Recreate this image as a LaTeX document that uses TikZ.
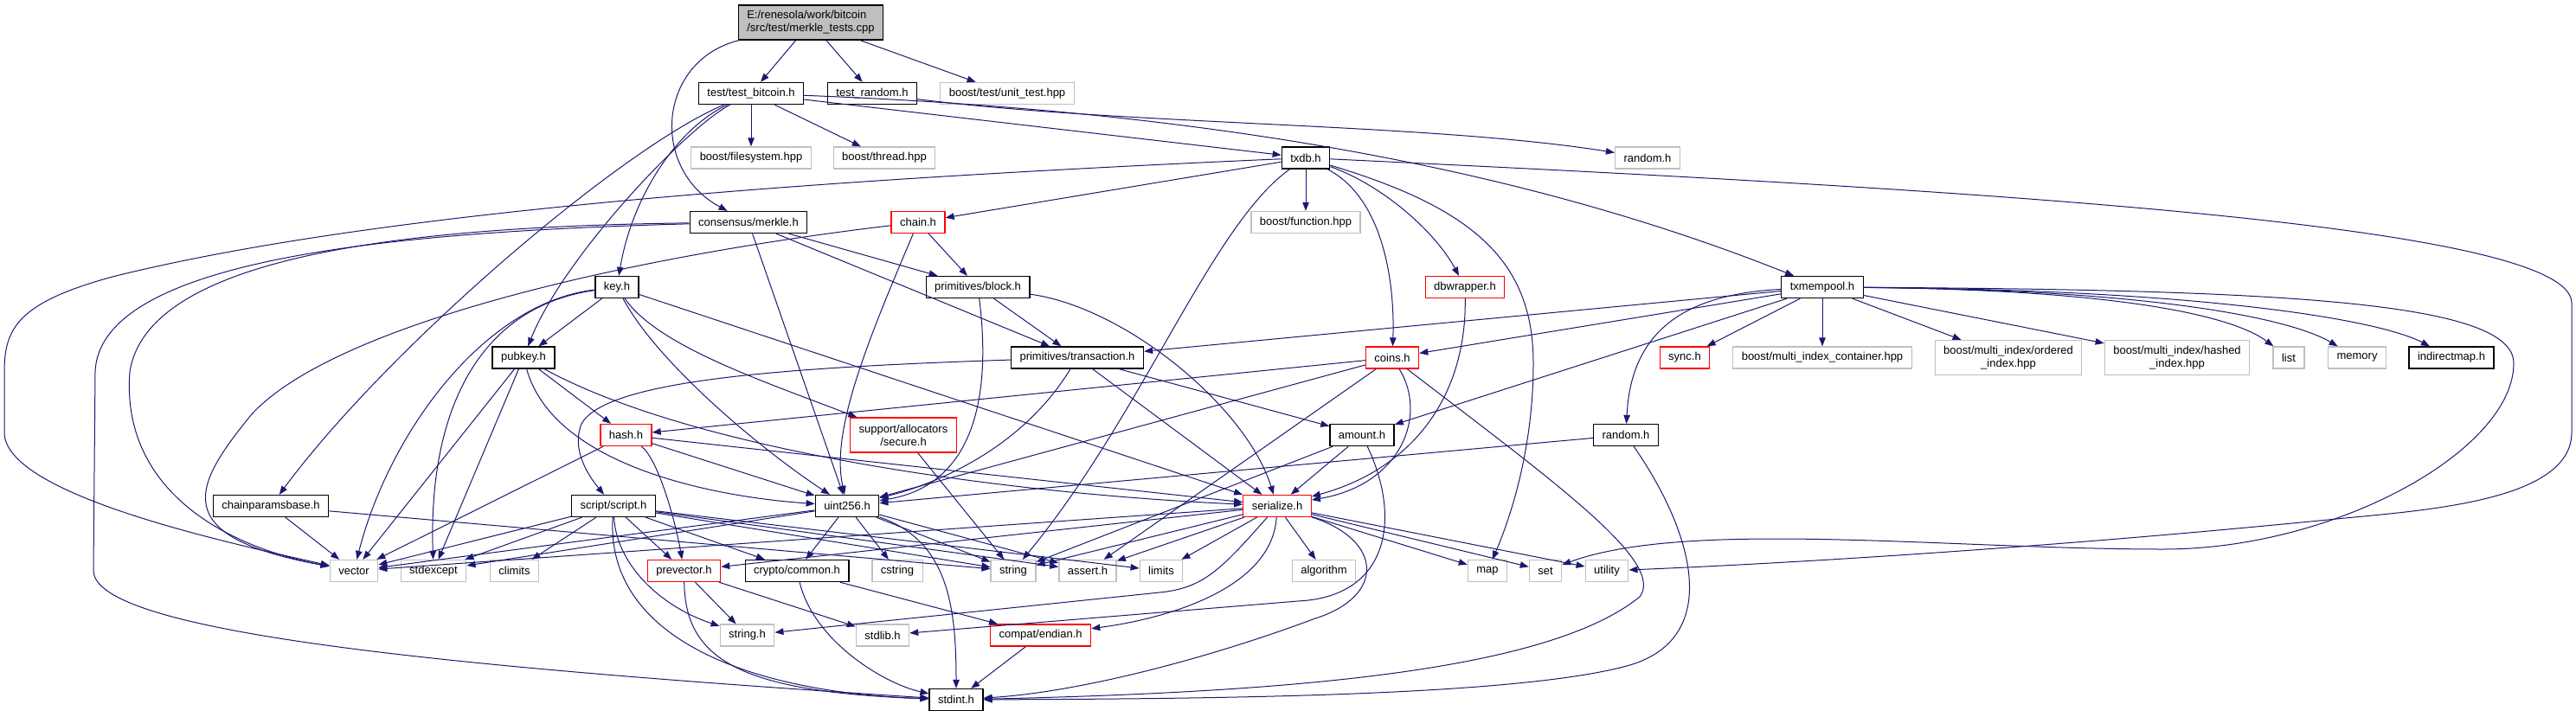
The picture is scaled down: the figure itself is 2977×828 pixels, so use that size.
\documentclass[tikz,border=0pt]{standalone}
\usepackage{fontspec}
\setmainfont{Liberation Sans}
\usetikzlibrary{arrows.meta}
\definecolor{edgeblue}{HTML}{191970}
\definecolor{boxgray}{HTML}{BFBFBF}

\begin{document}
\begin{tikzpicture}[x=1pt,y=-1pt,>={Triangle[length=10pt,width=7.5pt]},
  font=\fontsize{13}{15}\selectfont,
  file/.style={draw=black,line width=1.3pt,fill=white,minimum height=25pt,inner xsep=10pt,inner ysep=2pt},
  redfile/.style={file,draw=red},
  sysfile/.style={file,draw=boxgray},
  dep/.style={->,draw=edgeblue,line width=1pt}]
\useasboundingbox (0,0) rectangle (2977,828);
% ================ 节点 ================
% 顶层源文件
\node[file,fill=boxgray,align=left,minimum height=40pt] (mtests) at (937,26) {E:/renesola/work/bitcoin\\/src/test/merkle\_tests.cpp};
% 第二、三层
\node[file] (testbtc) at (868,108) {test/test\_bitcoin.h};
\node[file] (testrnd) at (1008,108) {test\_random.h};
\node[sysfile] (unittest) at (1164,108) {boost/test/unit\_test.hpp};
\node[sysfile] (bfs) at (868,182.5) {boost/filesystem.hpp};
\node[sysfile] (bthread) at (1022,182.5) {boost/thread.hpp};
\node[file] (txdb) at (1509,182.5) {txdb.h};
\node[sysfile] (rndsys) at (1904,182.5) {random.h};
\node[file] (merkle) at (865,257) {consensus/merkle.h};
\node[redfile] (chain) at (1061,257) {chain.h};
\node[sysfile] (bfunc) at (1509,257) {boost/function.hpp};
\node[file] (key) at (713,332) {key.h};
\node[file] (block) at (1130,332) {primitives/block.h};
\node[redfile] (dbwrap) at (1693,332) {dbwrapper.h};
\node[file] (mempool) at (2106,332) {txmempool.h};
% 中间层
\node[file] (pubkey) at (605,413.5) {pubkey.h};
\node[file] (tx) at (1245,413.5) {primitives/transaction.h};
\node[redfile] (coins) at (1609,413.5) {coins.h};
\node[redfile] (sync) at (1947,413.5) {sync.h};
\node[sysfile] (mic) at (2106,413.5) {boost/multi\_index\_container.hpp};
\node[sysfile,align=center,minimum height=40pt] (ordidx) at (2321,413.5) {boost/multi\_index/ordered\\\_index.hpp};
\node[sysfile,align=center,minimum height=40pt] (hashidx) at (2516,413.5) {boost/multi\_index/hashed\\\_index.hpp};
\node[sysfile] (list) at (2645,413.5) {list};
\node[sysfile] (memory) at (2724,413.5) {memory};
\node[file] (indmap) at (2833,413.5) {indirectmap.h};
\node[redfile] (hash) at (723.5,503) {hash.h};
\node[redfile,align=center,minimum height=40pt] (secure) at (1044,503) {support/allocators\\/secure.h};
\node[file] (amount) at (1574,503) {amount.h};
\node[file] (rnd) at (1879,503) {random.h};
\node[file] (cpbase) at (313,585) {chainparamsbase.h};
\node[file] (script) at (709,585) {script/script.h};
\node[file] (uint) at (979,585) {uint256.h};
\node[redfile] (ser) at (1476,585) {serialize.h};
% 底层
\node[sysfile] (vector) at (409,660) {vector};
\node[sysfile] (stdexcept) at (501,660) {stdexcept};
\node[sysfile] (climits) at (594.5,660) {climits};
\node[redfile] (prevec) at (790.5,660) {prevector.h};
\node[file] (ccommon) at (921,660) {crypto/common.h};
\node[sysfile] (cstring) at (1037,660) {cstring};
\node[sysfile] (string) at (1171,660) {string};
\node[sysfile] (assert) at (1257,660) {assert.h};
\node[sysfile] (limits) at (1342,660) {limits};
\node[sysfile] (algorithm) at (1530,660) {algorithm};
\node[sysfile] (map) at (1719,660) {map};
\node[sysfile] (set) at (1786,660) {set};
\node[sysfile] (utility) at (1857,660) {utility};
\node[sysfile] (stringh) at (863.5,734.5) {string.h};
\node[sysfile] (stdlib) at (1020,734.5) {stdlib.h};
\node[redfile] (endian) at (1202.6,734.5) {compat/endian.h};
\node[file] (stdint) at (1105,809) {stdint.h};
% ================ 依赖 ================
% merkle_tests.cpp
\draw[dep] (mtests) -- (testbtc);
\draw[dep] (mtests) -- (testrnd);
\draw[dep] (mtests) -- (unittest);
\draw[dep] (mtests) .. controls (760,70) and (750,195) .. (merkle);
% test_bitcoin.h, test_random.h
\draw[dep] (testbtc) -- (bfs);
\draw[dep] (testbtc) -- (bthread);
\draw[dep] (testbtc) -- (txdb);
\draw[dep] (testbtc) .. controls (1450,130) and (1800,210) .. (mempool);
\draw[dep] (testbtc) .. controls (780,150) and (730,230) .. (key);
\draw[dep] (testbtc) .. controls (790,150) and (650,300) .. (pubkey);
\draw[dep] (testbtc) .. controls (720,170) and (450,400) .. (cpbase);
\draw[dep] (testrnd) .. controls (1300,145) and (1650,142) .. (rndsys);
% consensus/merkle.h
\draw[dep] (merkle) -- (block);
\draw[dep] (merkle) -- (tx);
\draw[dep] (merkle) -- (uint);
\draw[dep] (merkle) .. controls (450,262) and (170,300) .. (150,430) .. controls (140,560) and (250,630) .. (vector);
\draw[dep] (merkle) .. controls (450,268) and (115,300) .. (110,430) -- (108,660) .. controls (110,730) and (500,770) .. (stdint);
% chain.h
\draw[dep] (chain) -- (block);
\draw[dep] (chain) .. controls (1000,400) and (960,500) .. (uint);
\draw[dep] (chain) .. controls (700,300) and (380,380) .. (290,480) .. controls (225,560) and (190,620) .. (vector);
% txdb.h
\draw[dep] (txdb) -- (chain);
\draw[dep] (txdb) -- (bfunc);
\draw[dep] (txdb) .. controls (1600,230) and (1612,330) .. (coins);
\draw[dep] (txdb) .. controls (1600,215) and (1660,270) .. (dbwrap);
\draw[dep] (txdb) .. controls (1700,240) and (1772,300) .. (1772,420) .. controls (1772,520) and (1745,600) .. (map);
\draw[dep] (txdb) .. controls (1400,260) and (1320,480) .. (string);
\draw[dep] (txdb) .. controls (1000,205) and (450,240) .. (130,320) .. controls (20,350) and (5,380) .. (5,430) -- (5,500) .. controls (5,570) and (250,625) .. (vector);
\draw[dep] (txdb) .. controls (2300,220) and (2970,260) .. (2972,350) -- (2972,500) .. controls (2972,580) and (2800,590) .. (2700,600) .. controls (2400,630) and (2100,650) .. (utility);
% txmempool.h
\draw[dep] (mempool) -- (tx);
\draw[dep] (mempool) -- (coins);
\draw[dep] (mempool) -- (amount);
\draw[dep] (mempool) .. controls (1950,340) and (1885,380) .. (rnd);
\draw[dep] (mempool) -- (sync);
\draw[dep] (mempool) -- (mic);
\draw[dep] (mempool) -- (ordidx);
\draw[dep] (mempool) -- (hashidx);
\draw[dep] (mempool) .. controls (2450,335) and (2580,365) .. (list);
\draw[dep] (mempool) .. controls (2500,335) and (2650,370) .. (memory);
\draw[dep] (mempool) .. controls (2550,335) and (2750,370) .. (indmap);
\draw[dep] (mempool) .. controls (2650,335) and (2905,350) .. (2905,420) .. controls (2905,520) and (2700,635) .. (2500,635) .. controls (2250,635) and (1950,600) .. (set);
% primitives
\draw[dep] (block) -- (tx);
\draw[dep] (block) .. controls (1300,355) and (1440,470) .. (ser);
\draw[dep] (block) .. controls (1145,450) and (1130,560) .. (uint);
\draw[dep] (tx) .. controls (900,425) and (700,440) .. (672,490) .. controls (660,520) and (680,550) .. (script);
\draw[dep] (tx) .. controls (1180,520) and (1080,560) .. (uint);
\draw[dep] (tx) -- (ser);
\draw[dep] (tx) -- (amount);
% key.h, pubkey.h
\draw[dep] (key) -- (pubkey);
\draw[dep] (key) .. controls (560,350) and (450,500) .. (vector);
\draw[dep] (key) .. controls (550,355) and (495,480) .. (stdexcept);
\draw[dep] (key) .. controls (760,420) and (880,520) .. (uint);
\draw[dep] (key) -- (ser);
\draw[dep] (key) .. controls (760,400) and (880,440) .. (secure);
\draw[dep] (pubkey) -- (hash);
\draw[dep] (pubkey) -- (vector);
\draw[dep] (pubkey) -- (stdexcept);
\draw[dep] (pubkey) .. controls (640,540) and (830,575) .. (uint);
\draw[dep] (pubkey) .. controls (800,520) and (1150,570) .. (ser);
% hash.h, secure.h
\draw[dep] (hash) -- (vector);
\draw[dep] (hash) .. controls (760,530) and (780,600) .. (prevec);
\draw[dep] (hash) -- (ser);
\draw[dep] (hash) -- (uint);
\draw[dep] (secure) -- (string);
% coins.h, dbwrapper.h, amount.h, random.h
\draw[dep] (coins) -- (hash);
\draw[dep] (coins) -- (uint);
\draw[dep] (coins) .. controls (1650,480) and (1620,560) .. (ser);
\draw[dep] (coins) -- (assert);
\draw[dep] (coins) .. controls (1800,560) and (1925,650) .. (1895,690) .. controls (1790,775) and (1500,800) .. (stdint);
\draw[dep] (dbwrap) .. controls (1695,450) and (1640,540) .. (ser);
\draw[dep] (amount) -- (ser);
\draw[dep] (amount) -- (string);
\draw[dep] (amount) .. controls (1620,600) and (1605,690) .. (1500,695) -- (stdlib);
\draw[dep] (rnd) -- (uint);
\draw[dep] (rnd) .. controls (1960,620) and (1990,740) .. (1880,770) .. controls (1750,805) and (1400,808) .. (stdint);
% chainparamsbase.h, script/script.h
\draw[dep] (cpbase) -- (vector);
\draw[dep] (cpbase) -- (string);
\draw[dep] (script) -- (vector);
\draw[dep] (script) -- (stdexcept);
\draw[dep] (script) -- (climits);
\draw[dep] (script) -- (prevec);
\draw[dep] (script) -- (ccommon);
\draw[dep] (script) -- (string);
\draw[dep] (script) -- (assert);
\draw[dep] (script) -- (limits);
\draw[dep] (script) .. controls (712,650) and (760,700) .. (stringh);
\draw[dep] (script) .. controls (700,730) and (850,800) .. (stdint);
% uint256.h
\draw[dep] (uint) -- (ccommon);
\draw[dep] (uint) -- (cstring);
\draw[dep] (uint) -- (string);
\draw[dep] (uint) -- (assert);
\draw[dep] (uint) -- (vector);
\draw[dep] (uint) -- (stdexcept);
\draw[dep] (uint) .. controls (1095,625) and (1105,700) .. (stdint);
% serialize.h
\draw[dep] (ser) -- (prevec);
\draw[dep] (ser) -- (vector);
\draw[dep] (ser) -- (string);
\draw[dep] (ser) -- (assert);
\draw[dep] (ser) -- (limits);
\draw[dep] (ser) -- (algorithm);
\draw[dep] (ser) -- (map);
\draw[dep] (ser) -- (set);
\draw[dep] (ser) -- (utility);
\draw[dep] (ser) .. controls (1410,660) and (1390,680) .. (1340,685) -- (stringh);
\draw[dep] (ser) .. controls (1470,680) and (1350,715) .. (endian);
\draw[dep] (ser) .. controls (1600,625) and (1600,690) .. (1520,715) .. controls (1400,760) and (1250,800) .. (stdint);
% 底层头文件
\draw[dep] (prevec) -- (stringh);
\draw[dep] (prevec) -- (stdlib);
\draw[dep] (prevec) .. controls (792,760) and (850,800) .. (stdint);
\draw[dep] (ccommon) .. controls (940,740) and (1020,790) .. (stdint);
\draw[dep] (ccommon) -- (endian);
\draw[dep] (endian) -- (stdint);
\end{tikzpicture}
\end{document}
